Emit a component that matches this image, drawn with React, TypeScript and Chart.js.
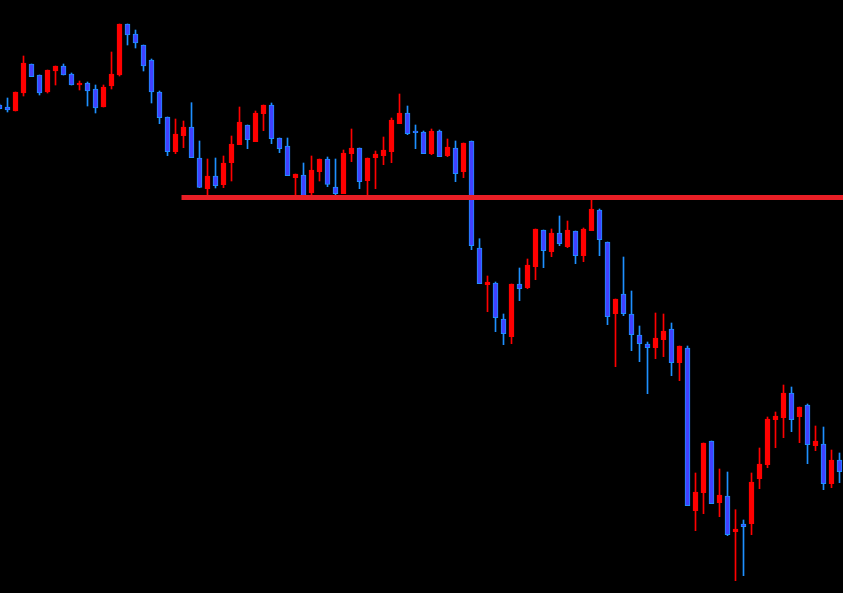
import React, { useEffect, useRef } from "react";
import { Chart, registerables } from "chart.js";

Chart.register(...registerables);

// OHLC values (price units), one entry per candle, left to right
const opens = [495, 493, 489, 507, 536, 525, 508, 529, 534, 526,
  515, 517, 511, 493, 514, 525, 576, 566, 555, 540,
  508, 483, 448.3, 464.3, 473, 442, 411.3, 424, 415.3, 437.3,
  455.3, 475, 458.3, 486.3, 495, 462, 454, 422.3, 425, 407,
  428.3, 441, 413, 406.3, 446.3, 452, 419.3, 442.3, 444.3, 448.3,
  476.3, 487, 469, 468, 446.3, 469, 444.3, 452, 428.3, 459,
  352, 315.3, 317, 281, 263.3, 316, 312.3, 333.3, 370, 348.3,
  367, 353.3, 369, 344.3, 369.3, 390, 358, 286.3, 306, 286,
  265, 256, 252.3, 260.3, 271, 237.3, 252, 89.3, 107.3, 159,
  97.3, 104, 68.3, 76, 76.3, 121.3, 135.3, 180.3, 182.3, 207,
  183.3, 195, 154.3, 156, 116.3, 140];

const highs = [496, 502, 508, 544, 536, 525, 530, 534, 536, 527,
  519, 518, 515, 515, 548, 576, 576, 570, 555, 541,
  509, 483, 481, 479, 497.3, 459, 441, 442, 444, 464,
  493, 475, 489, 495, 497, 462, 462, 426, 437, 444,
  441, 443, 441, 450, 471, 452, 442, 449, 463, 482,
  506, 494, 475, 469, 471, 470, 461, 459, 457, 459,
  361.3, 324, 318, 286, 316, 332, 341, 371, 370, 371,
  384, 379, 369, 372, 401, 391, 358, 301, 343, 309,
  274, 258, 287, 286, 277, 254, 254, 127, 157, 159,
  131, 128, 90.3, 80, 127, 152, 183, 188, 215, 213,
  193, 196, 174, 173, 150, 147];

const lows = [491, 488, 489, 504, 523.3, 505, 507, 515, 525, 515,
  510, 494, 487, 493, 511, 524, 555, 552, 529, 497,
  476.3, 444.3, 446.3, 452.3, 442.3, 412.3, 405, 412, 412.3, 419,
  455.3, 451.3, 458.3, 469.3, 456.3, 447.3, 424.3, 403, 403, 405,
  419, 413.3, 405.3, 406.3, 438.3, 411.3, 405, 411.3, 435.3, 437.3,
  476.3, 465.3, 451.3, 446.3, 445.3, 443.3, 443.3, 418.3, 422.3, 350.3,
  316.3, 288.3, 268.3, 255.3, 256.3, 299.3, 311.3, 320.3, 332.3, 343.3,
  354.3, 352.3, 336.3, 338.3, 369.3, 344.3, 275.3, 233.3, 284.3, 249.3,
  238.3, 206.3, 241.3, 243.3, 224.3, 219.3, 94.3, 69.3, 86.3, 96.3,
  83.3, 64.3, 19.3, 24.3, 65.3, 111.3, 132.3, 152.3, 162.3, 168.3,
  157.3, 136.3, 149.3, 110.3, 112.3, 117.3];

const closes = [491.3, 490, 508, 537, 523.3, 507, 530, 534, 525, 515,
  517, 509, 492, 513, 526, 576, 565, 557, 534, 508,
  482.3, 448.3, 466, 473, 442.3, 412.7, 424, 414.3, 437, 456,
  478, 460.3, 487, 495, 461.3, 451.3, 424.3, 426, 404, 430,
  441, 415.5, 406.3, 447, 452, 418.3, 442, 446, 450, 480,
  487, 466.3, 467.3, 446.3, 469, 443.3, 453, 426.3, 457, 354.3,
  316.3, 318, 282.3, 266.3, 316, 311.3, 335, 371, 349.3, 367,
  356.3, 370, 344.3, 371, 391, 360.3, 283.3, 301, 286.3, 265.3,
  256.3, 252.3, 262, 269, 237.3, 254, 94.3, 108, 157, 96.3,
  105, 65.3, 71, 73.3, 118, 136, 181, 184, 207, 180.3,
  193, 155.3, 159, 116.3, 140, 128.3];

// horizontal support/resistance level
const levelPrice = 402.5;
const levelStart = 22.75;
const levelEnd = 106;

const UP_COLOR = "#ff0000";
const DOWN_FILL = "#4141ff";
const DOWN_BORDER = "#1e90ff";
const LEVEL_COLOR = "#e81e25";

export default function App() {
  const ref = useRef<HTMLCanvasElement | null>(null);

  useEffect(() => {
    if (!ref.current) return;
    document.body.style.background = "#000";
    const idx = opens.map((_, i) => i);
    const isUp = idx.map((i) => closes[i] >= opens[i]);

    const bodies = idx.map((i) => ({
      x: i,
      y: [Math.min(opens[i], closes[i]), Math.max(opens[i], closes[i])],
    }));
    const wicks = idx.map((i) => ({ x: i, y: [lows[i], highs[i]] }));

    const chart = new Chart(ref.current, {
      type: "bar",
      data: {
        datasets: [
          {
            type: "line",
            data: [
              { x: levelStart, y: levelPrice },
              { x: levelEnd, y: levelPrice },
            ],
            borderColor: LEVEL_COLOR,
            borderWidth: 5,
            borderCapStyle: "butt",
            pointRadius: 0,
            order: 0,
          } as any,
          {
            type: "bar",
            data: bodies as any,
            backgroundColor: isUp.map((u) => (u ? UP_COLOR : DOWN_FILL)),
            borderColor: isUp.map((u) => (u ? UP_COLOR : DOWN_BORDER)),
            borderWidth: 1,
            borderSkipped: false,
            barThickness: 5,
            grouped: false,
            order: 1,
          } as any,
          {
            type: "bar",
            data: wicks as any,
            backgroundColor: isUp.map((u) => (u ? UP_COLOR : DOWN_BORDER)),
            borderWidth: 0,
            barThickness: 1,
            grouped: false,
            order: 2,
          } as any,
        ],
      },
      options: {
        responsive: false,
        animation: false,
        devicePixelRatio: 1,
        layout: { padding: 0 },
        events: [],
        scales: {
          x: { type: "linear", display: false, min: 0.0625, max: 105.4375, offset: false },
          y: { type: "linear", display: false, min: 7, max: 600 },
        },
        plugins: {
          legend: { display: false },
          tooltip: { enabled: false },
        },
      },
    });
    return () => chart.destroy();
  }, []);

  return (
    <div
      style={{
        position: "fixed",
        left: 0,
        top: 0,
        width: 843,
        height: 593,
        background: "#000",
      }}
    >
      <canvas ref={ref} width={843} height={593} style={{ display: "block" }} />
    </div>
  );
}
